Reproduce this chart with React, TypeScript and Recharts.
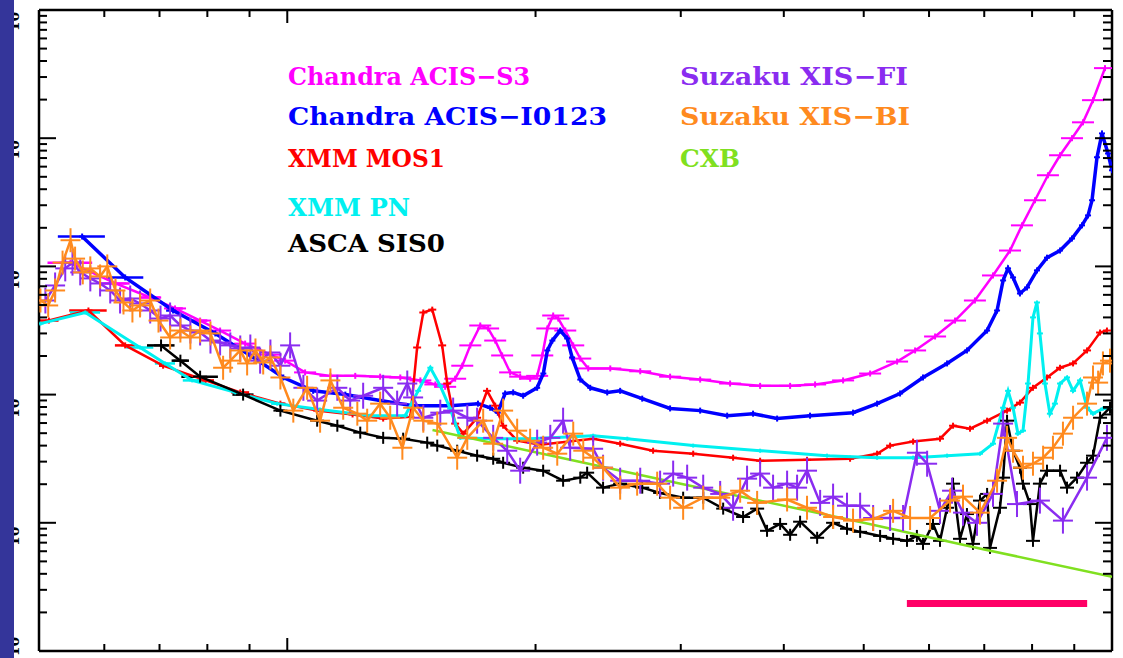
import React from 'react';
import { ComposedChart, Scatter, XAxis, YAxis, ErrorBar, ReferenceLine } from 'recharts';

// [energy keV, rate, optional half bin width keV]
type Pt = [number, number, number?];

const W = 1123;
const H = 658;

const xTicks = [0.6, 0.7, 0.8, 0.9, 1, 2, 3, 4, 5, 6, 7, 8, 9];
const yTicks = [
  1e-4, 2e-4, 3e-4, 4e-4, 5e-4, 6e-4, 7e-4, 8e-4, 9e-4,
  1e-3, 2e-3, 3e-3, 4e-3, 5e-3, 6e-3, 7e-3, 8e-3, 9e-3,
  0.01, 0.02, 0.03, 0.04, 0.05, 0.06, 0.07, 0.08, 0.09,
  0.1, 0.2, 0.3, 0.4, 0.5, 0.6, 0.7, 0.8, 0.9,
  1, 2, 3, 4, 5, 6, 7, 8, 9, 10,
];

const acisS3: Pt[] = [
  [0.546, 0.107, 0.034], [0.619, 0.0736, 0.025], [0.682, 0.0572, 0.02], [0.731, 0.047, 0.016], [0.784, 0.0378, 0.016],
  [0.829, 0.0316], [0.889, 0.025], [0.954, 0.0205], [0.994, 0.0184], [1.051, 0.0149], [1.128, 0.014], [1.209, 0.014],
  [1.296, 0.0138], [1.371, 0.0136], [1.45, 0.0129], [1.512, 0.012], [1.554, 0.0115], [1.598, 0.0133], [1.63, 0.0168],
  [1.667, 0.0242], [1.714, 0.0346], [1.752, 0.0328], [1.787, 0.0264], [1.822, 0.0202], [1.863, 0.0149], [1.916, 0.0138],
  [1.97, 0.0133], [2.009, 0.014], [2.038, 0.0202], [2.067, 0.0328], [2.101, 0.0414], [2.131, 0.0392], [2.173, 0.0316],
  [2.222, 0.0242], [2.266, 0.0191], [2.317, 0.016], [2.464, 0.016], [2.679, 0.0152], [2.912, 0.0138], [3.167, 0.0131],
  [3.443, 0.0122], [3.744, 0.0117], [4.071, 0.0117], [4.365, 0.012], [4.72, 0.0129], [5.09, 0.0146], [5.488, 0.0181],
  [5.771, 0.0221], [6.102, 0.0284], [6.452, 0.0378], [6.82, 0.0542], [7.173, 0.085], [7.522, 0.133], [7.777, 0.209],
  [8.065, 0.328], [8.362, 0.514], [8.65, 0.736], [8.943, 1.0], [9.222, 1.33], [9.484, 1.98], [9.806, 3.52],
];

const acisI: Pt[] = [
  [0.564, 0.171, 0.037], [0.636, 0.082, 0.033], [0.727, 0.0453, 0.014], [0.818, 0.03], [0.902, 0.0202], [0.989, 0.0136],
  [1.075, 0.0107], [1.176, 0.01], [1.296, 0.00898], [1.421, 0.0082], [1.576, 0.0082], [1.703, 0.0085], [1.762, 0.0079],
  [1.8, 0.00723], [1.837, 0.0102], [1.879, 0.0104], [1.932, 0.0098], [2.009, 0.0113], [2.044, 0.0146], [2.067, 0.0221],
  [2.096, 0.0264], [2.143, 0.0316], [2.185, 0.0274], [2.215, 0.0195], [2.266, 0.0131], [2.33, 0.0113], [2.443, 0.0104],
  [2.533, 0.0107], [2.694, 0.0093], [2.912, 0.0078], [3.167, 0.0075], [3.415, 0.00685], [3.671, 0.0071], [3.926, 0.0065],
  [4.304, 0.00685], [4.853, 0.00723], [5.19, 0.0085], [5.534, 0.0102], [5.9, 0.0136], [6.31, 0.0175], [6.67, 0.0221],
  [7.056, 0.0316], [7.255, 0.0453], [7.378, 0.0777], [7.481, 0.0965], [7.586, 0.082], [7.734, 0.0615], [7.888, 0.0685],
  [8.11, 0.0931], [8.341, 0.117], [8.65, 0.133], [8.943, 0.165], [9.196, 0.209], [9.353, 0.25], [9.458, 0.328],
  [9.59, 0.71], [9.725, 1.09], [9.89, 0.76], [10.0, 0.562],
];

const mos1: Pt[] = [
  [0.514, 0.0378, 0.014], [0.574, 0.0453, 0.03], [0.636, 0.0242, 0.018], [0.707, 0.0168, 0.008], [0.796, 0.0129, 0.019],
  [0.877, 0.0104, 0.022], [0.981, 0.0085, 0.014], [1.087, 0.0075], [1.2, 0.007], [1.307, 0.0065], [1.41, 0.0067],
  [1.437, 0.0233], [1.462, 0.0437], [1.499, 0.046], [1.541, 0.0242], [1.563, 0.0122], [1.598, 0.00594], [1.635, 0.00496],
  [1.699, 0.0066], [1.747, 0.0107], [1.787, 0.0082], [1.827, 0.00572], [1.9, 0.00437], [2.026, 0.00407], [2.349, 0.00453],
  [2.533, 0.00414], [2.777, 0.00365], [3.106, 0.00346], [3.472, 0.00322], [3.744, 0.00305], [4.268, 0.0031],
  [4.813, 0.00316], [5.19, 0.00346], [5.382, 0.004], [5.739, 0.0043], [6.187, 0.00453], [6.416, 0.00572], [6.727, 0.00542],
  [7.056, 0.00626], [7.46, 0.0075], [7.734, 0.00866], [8.02, 0.0113], [8.341, 0.0136], [8.65, 0.0162], [8.97, 0.0175],
  [9.327, 0.0221], [9.672, 0.0305], [9.86, 0.0316],
];

const pn: Pt[] = [
  [0.502, 0.0358], [0.569, 0.0437, 0.024], [0.663, 0.0233, 0.025], [0.711, 0.0175, 0.02], [0.767, 0.0129, 0.02],
  [0.865, 0.0104], [0.972, 0.0085, 0.016], [1.096, 0.00764], [1.261, 0.00685], [1.39, 0.00685], [1.441, 0.0107],
  [1.491, 0.0162], [1.533, 0.0117], [1.576, 0.00777], [1.621, 0.0046], [1.762, 0.00453], [1.97, 0.00453], [2.349, 0.00478],
  [2.584, 0.00453], [3.106, 0.004], [3.744, 0.00365], [4.513, 0.00334], [5.19, 0.00322], [5.739, 0.00322], [6.31, 0.00334],
  [6.918, 0.00346], [7.173, 0.00414], [7.378, 0.0079], [7.481, 0.0107], [7.586, 0.0079], [7.69, 0.00496], [7.8, 0.00523],
  [7.91, 0.0122], [8.02, 0.04], [8.11, 0.0523], [8.177, 0.03], [8.293, 0.0122], [8.408, 0.0071], [8.527, 0.0085],
  [8.65, 0.0122], [8.82, 0.0136], [8.97, 0.0107], [9.146, 0.0129], [9.327, 0.0079], [9.484, 0.0071], [9.75, 0.00777],
  [9.945, 0.0079],
];

const sis0: Pt[] = [
  [0.703, 0.0242, 0.027], [0.742, 0.0184, 0.018], [0.784, 0.0138, 0.04], [0.884, 0.01, 0.026], [0.981, 0.0075, 0.012],
  [1.087, 0.00626], [1.15, 0.00572], [1.226, 0.00505], [1.307, 0.0046], [1.382, 0.00453], [1.478, 0.00422], [1.52, 0.004],
  [1.607, 0.00365], [1.699, 0.00334], [1.777, 0.00316], [1.827, 0.00294], [1.932, 0.00269], [2.043, 0.00255],
  [2.16, 0.00213], [2.266, 0.00225], [2.31, 0.00246], [2.415, 0.00188], [2.533, 0.00202], [2.694, 0.00188],
  [2.832, 0.00171], [3.02, 0.00157], [3.194, 0.00157], [3.377, 0.00129], [3.57, 0.00111], [3.713, 0.00129],
  [3.817, 8.66e-4], [3.959, 9.8e-4], [4.071, 8.06e-4], [4.186, 1.02e-3], [4.39, 7.64e-4], [4.59, 1.0e-3], [4.772, 8.98e-4],
  [4.95, 8.5e-4], [5.234, 7.9e-4], [5.427, 7.5e-4], [5.642, 7.23e-4], [5.8, 7.9e-4], [5.9, 6.85e-4], [6.067, 9.8e-4],
  [6.187, 7.23e-4], [6.31, 0.00131], [6.416, 0.00202], [6.542, 7.5e-4], [6.67, 0.00117], [6.783, 6.85e-4],
  [6.918, 0.00149], [7.056, 0.00168], [7.113, 6.37e-4], [7.314, 0.00131], [7.378, 0.00225], [7.46, 0.00626],
  [7.586, 0.00365], [7.734, 0.00269], [7.8, 0.00202], [7.953, 0.0014], [8.02, 7.23e-4], [8.177, 0.00202],
  [8.341, 0.00255], [8.65, 0.00255], [8.82, 0.00188], [9.07, 0.00225], [9.327, 0.00294], [9.484, 0.00334],
  [9.672, 0.0066], [9.945, 0.0079],
];

const xisFI: Pt[] = [
  [0.509, 0.0542], [0.523, 0.071], [0.538, 0.0965], [0.549, 0.107], [0.561, 0.0898], [0.577, 0.0806], [0.593, 0.0736],
  [0.61, 0.0649], [0.627, 0.0542], [0.645, 0.0562], [0.663, 0.0514], [0.682, 0.0453], [0.702, 0.0392], [0.721, 0.0414],
  [0.742, 0.0346], [0.763, 0.0316], [0.784, 0.0305], [0.807, 0.0264], [0.829, 0.0255], [0.853, 0.0242], [0.877, 0.0229],
  [0.902, 0.0233], [0.927, 0.0184], [0.954, 0.0213], [0.981, 0.0168], [1.008, 0.0242], [1.046, 0.0113], [1.087, 0.00898],
  [1.15, 0.0113], [1.192, 0.00898], [1.236, 0.0098], [1.307, 0.0113], [1.359, 0.0085], [1.398, 0.0122], [1.421, 0.0095],
  [1.462, 0.0066], [1.533, 0.00723], [1.589, 0.0075], [1.653, 0.0066], [1.699, 0.00626], [1.777, 0.0046], [1.848, 0.00365],
  [1.916, 0.00255], [2.009, 0.00422], [2.084, 0.0046], [2.16, 0.00626], [2.203, 0.00385], [2.349, 0.00378],
  [2.415, 0.00269], [2.533, 0.00213], [2.679, 0.00213], [2.832, 0.00202], [2.937, 0.00242], [3.054, 0.00225],
  [3.194, 0.00188], [3.349, 0.00168], [3.472, 0.00131], [3.61, 0.00221], [3.744, 0.00242], [3.882, 0.00188],
  [4.037, 0.00202], [4.151, 0.00188], [4.268, 0.00255], [4.427, 0.00143], [4.59, 0.0016], [4.772, 0.00136],
  [4.95, 0.00136], [5.133, 0.00109], [5.382, 0.00109], [5.58, 0.00109], [5.8, 0.00352], [5.968, 0.00289],
  [6.187, 0.00124], [6.398, 0.00178], [6.597, 0.0012], [6.86, 0.001], [7.173, 0.00168], [7.378, 0.00594],
  [7.67, 0.0014], [8.177, 0.00149], [8.72, 0.00104], [9.327, 0.00225], [9.86, 0.0046],
];

const xisBI: Pt[] = [
  [0.502, 0.0542], [0.513, 0.0496], [0.523, 0.0649], [0.534, 0.107], [0.546, 0.16], [0.553, 0.115], [0.565, 0.0898],
  [0.577, 0.0965], [0.593, 0.0835], [0.605, 0.1], [0.619, 0.0649], [0.633, 0.0523], [0.649, 0.0453], [0.663, 0.0496],
  [0.682, 0.0542], [0.698, 0.0378], [0.721, 0.0279], [0.742, 0.0316], [0.763, 0.0279], [0.784, 0.0316], [0.807, 0.03],
  [0.836, 0.0162], [0.853, 0.0184], [0.877, 0.0221], [0.894, 0.0175], [0.915, 0.0221], [0.935, 0.0178], [0.954, 0.0195],
  [0.981, 0.0136], [1.017, 0.0075], [1.057, 0.0113], [1.096, 0.00626], [1.128, 0.0129], [1.169, 0.0079], [1.216, 0.0071],
  [1.25, 0.00626], [1.296, 0.0085], [1.333, 0.0066], [1.379, 0.00385], [1.421, 0.0079], [1.462, 0.00626], [1.52, 0.00594],
  [1.607, 0.00322], [1.653, 0.0046], [1.728, 0.00626], [1.777, 0.00414], [1.827, 0.0075], [1.9, 0.00523], [1.97, 0.00437],
  [2.043, 0.00385], [2.125, 0.00346], [2.222, 0.00496], [2.285, 0.00365], [2.349, 0.00322], [2.415, 0.00269],
  [2.533, 0.00188], [2.656, 0.00202], [2.809, 0.00202], [2.912, 0.00157], [3.02, 0.00131], [3.194, 0.00157],
  [3.349, 0.00157], [3.541, 0.00178], [3.713, 0.00143], [4.037, 0.00152], [4.268, 0.00131], [4.59, 0.00111],
  [4.853, 0.00104], [5.133, 0.00107], [5.427, 0.00124], [5.691, 0.00109], [6.018, 0.00109], [6.363, 0.00149],
  [6.597, 0.0016], [6.918, 0.0012], [7.255, 0.00213], [7.46, 0.0046], [7.586, 0.00365], [7.8, 0.00269], [8.02, 0.00289],
  [8.25, 0.00322], [8.48, 0.00385], [8.72, 0.00496], [8.97, 0.0066], [9.327, 0.0085], [9.484, 0.0136], [9.62, 0.0124],
  [9.75, 0.0175], [9.945, 0.0184],
];

const cxb: Pt[] = [[1.5, 5.3e-3], [2, 3.55e-3], [3, 2.02e-3], [5, 1.0e-3], [7, 6.2e-4], [10, 3.8e-4]];

// pink bar: energy range and level
const bandRange = [5.64, 9.33];
const bandLevel = 2.35e-4;

const toRows = (pts: Pt[]) => pts.map(([e, v, ex]) => ({ e, v, ex }));

const series = [
  { key: 'acisS3', data: acisS3, color: '#ff00ff', hw: 11, hh: 3, lw: 2.5 },
  { key: 'acisI', data: acisI, color: '#0000ff', hw: 3, hh: 3, lw: 3.5 },
  { key: 'mos1', data: mos1, color: '#ff0000', hw: 4, hh: 3, lw: 2.5 },
  { key: 'pn', data: pn, color: '#00f0f0', hw: 3, hh: 2, lw: 3 },
  { key: 'sis0', data: sis0, color: '#000000', hw: 7, hh: 6, lw: 2.5 },
  { key: 'cxb', data: cxb, color: '#80e020', hw: 0, hh: 0, lw: 2.5 },
  { key: 'xisFI', data: xisFI, color: '#8a2cf0', hw: 10, hh: 13, lw: 2.5 },
  { key: 'xisBI', data: xisBI, color: '#ff8a1e', hw: 10, hh: 12, lw: 2.5 },
];

const legendRows = [
  { text: 'Chandra ACIS−S3', color: '#ff00ff', x: 288, y: 85, w: 242 },
  { text: 'Chandra ACIS−I0123', color: '#0000ff', x: 288, y: 125, w: 319 },
  { text: 'XMM MOS1', color: '#ff0000', x: 288, y: 167, w: 157 },
  { text: 'XMM PN', color: '#00f0f0', x: 288, y: 216, w: 122 },
  { text: 'ASCA SIS0', color: '#000000', x: 288, y: 252, w: 157 },
  { text: 'Suzaku XIS−FI', color: '#8a2cf0', x: 680, y: 85, w: 228 },
  { text: 'Suzaku XIS−BI', color: '#ff8a1e', x: 680, y: 125, w: 230 },
  { text: 'CXB', color: '#80e020', x: 680, y: 167, w: 60 },
];

const isMajor = (v: number) => Math.abs(Math.log10(v) - Math.round(Math.log10(v))) < 1e-6;

const cross = (hw: number, hh: number, color: string) => (p: any) => {
  const { cx, cy } = p;
  if (cx == null || cy == null || (hw === 0 && hh === 0)) return <g />;
  return (
    <g>
      <line x1={cx - hw} x2={cx + hw} y1={cy} y2={cy} stroke={color} strokeWidth={2} />
      <line x1={cx} x2={cx} y1={cy - hh} y2={cy + hh} stroke={color} strokeWidth={2} />
    </g>
  );
};

const BottomTick = (p: any) => {
  const len = isMajor(p.payload.value) ? 13 : 7;
  return <line x1={p.x} x2={p.x} y1={p.y} y2={p.y - len} stroke="#000" strokeWidth={2} />;
};

const TopTick = (p: any) => {
  const len = isMajor(p.payload.value) ? 13 : 7;
  return <line x1={p.x} x2={p.x} y1={p.y} y2={p.y + len} stroke="#000" strokeWidth={2} />;
};

const LeftTick = (p: any) => {
  const v = p.payload.value;
  const major = isMajor(v);
  const ly = Math.max(18, Math.min(p.y + 8, H - 17));
  return (
    <g>
      <line x1={p.x} x2={p.x + (major ? 17 : 8)} y1={p.y} y2={p.y} stroke="#000" strokeWidth={2} />
      {major && (
        <text
          x={19}
          y={ly}
          transform={`rotate(-90 19 ${ly})`}
          textAnchor="middle"
          fontFamily="DejaVu Serif"
          fontWeight="bold"
          fontSize={14}
          fill="#000"
        >
          10<tspan fontSize={10} dy={-6}>{Math.round(Math.log10(v))}</tspan>
        </text>
      )}
    </g>
  );
};

const RightTick = (p: any) => {
  const len = isMajor(p.payload.value) ? 17 : 9;
  return <line x1={p.x} x2={p.x - len} y1={p.y} y2={p.y} stroke="#000" strokeWidth={2} />;
};

const axisLine = { stroke: '#000', strokeWidth: 2.5 };

export default function App() {
  return (
    <div style={{ position: 'fixed', left: 0, top: 0, width: W, height: H, background: '#fff', overflow: 'hidden' }}>
      <ComposedChart width={W} height={H} margin={{ top: 9, right: 10, bottom: 6, left: 38 }}>
        <XAxis
          dataKey="e"
          type="number"
          scale="log"
          domain={[0.5, 10]}
          allowDataOverflow
          ticks={xTicks}
          interval={0}
          height={1}
          tickSize={0}
          tickMargin={0}
          tickLine={false}
          axisLine={axisLine}
          tick={BottomTick}
        />
        <XAxis
          xAxisId="top"
          orientation="top"
          dataKey="e"
          type="number"
          scale="log"
          domain={[0.5, 10]}
          allowDataOverflow
          ticks={xTicks}
          interval={0}
          height={1}
          tickSize={0}
          tickMargin={0}
          tickLine={false}
          axisLine={axisLine}
          tick={TopTick}
        />
        <YAxis
          dataKey="v"
          type="number"
          scale="log"
          domain={[1e-4, 10]}
          allowDataOverflow
          ticks={yTicks}
          interval={0}
          width={1}
          tickSize={0}
          tickMargin={0}
          tickLine={false}
          axisLine={axisLine}
          tick={LeftTick}
        />
        <YAxis
          yAxisId="right"
          orientation="right"
          dataKey="v"
          type="number"
          scale="log"
          domain={[1e-4, 10]}
          allowDataOverflow
          ticks={yTicks}
          interval={0}
          width={1}
          tickSize={0}
          tickMargin={0}
          tickLine={false}
          axisLine={axisLine}
          tick={RightTick}
        />
        {series.map((s) => (
          <Scatter
            key={s.key}
            data={toRows(s.data)}
            fill={s.color}
            line={{ stroke: s.color, strokeWidth: s.lw }}
            lineType="joint"
            shape={cross(s.hw, s.hh, s.color)}
            isAnimationActive={false}
          >
            <ErrorBar dataKey="ex" direction="x" width={0} stroke={s.color} strokeWidth={2.5} isAnimationActive={false} />
          </Scatter>
        ))}
        <ReferenceLine
          segment={[
            { x: bandRange[0], y: bandLevel },
            { x: bandRange[1], y: bandLevel },
          ]}
          stroke="#ff0066"
          strokeWidth={7}
        />
      </ComposedChart>
      <svg width={W} height={H} style={{ position: 'absolute', left: 0, top: 0, pointerEvents: 'none' }}>
        {legendRows.map((r) => (
          <text
            key={r.text}
            x={r.x}
            y={r.y}
            fill={r.color}
            fontFamily="DejaVu Serif"
            fontWeight="bold"
            fontSize={24}
            textLength={r.w}
            lengthAdjust="spacingAndGlyphs"
          >
            {r.text}
          </text>
        ))}
      </svg>
      <div style={{ position: 'absolute', left: 0, top: 0, width: 14, height: H, background: '#34359a' }} />
    </div>
  );
}
